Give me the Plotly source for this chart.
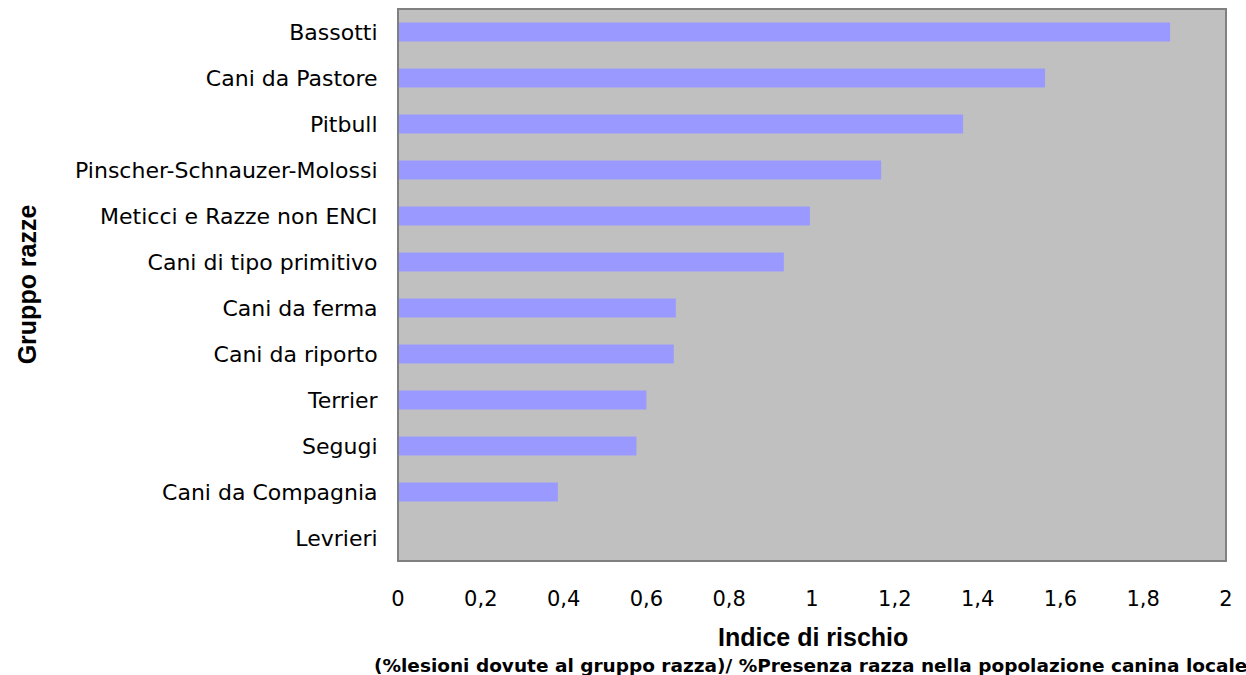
import plotly.graph_objects as go

# Breed groups (top to bottom) and their risk index
groups = [
    "Bassotti",
    "Cani da Pastore",
    "Pitbull",
    "Pinscher-Schnauzer-Molossi",
    "Meticci e Razze non ENCI",
    "Cani di tipo primitivo",
    "Cani da ferma",
    "Cani da riporto",
    "Terrier",
    "Segugi",
    "Cani da Compagnia",
    "Levrieri",
]
risk_index = [1.865, 1.563, 1.365, 1.167, 0.995, 0.932, 0.671, 0.666, 0.600, 0.576, 0.386, 0.0]

tick_vals = [0, 0.2, 0.4, 0.6, 0.8, 1, 1.2, 1.4, 1.6, 1.8, 2]
tick_text = ["0", "0,2", "0,4", "0,6", "0,8", "1", "1,2", "1,4", "1,6", "1,8", "2"]

YTICK_FONT = dict(family="DejaVu Sans, sans-serif", size=22, color="black")
XTICK_FONT = dict(family="DejaVu Sans, sans-serif", size=21, color="black")
TITLE_FONT = dict(family="Liberation Sans, Arial, sans-serif", size=25, color="black")

fig = go.Figure(
    go.Bar(
        x=risk_index,
        y=groups,
        orientation="h",
        marker=dict(color="#9999ff", line=dict(width=0)),
    )
)

fig.update_layout(
    width=1246,
    height=675,
    margin=dict(l=398, r=20, t=9, b=114),
    paper_bgcolor="white",
    plot_bgcolor="#c0c0c0",
    bargap=0.59,
    showlegend=False,
    xaxis=dict(
        range=[0, 2],
        tickvals=tick_vals,
        ticktext=tick_text,
        tickfont=XTICK_FONT,
        showgrid=False,
        zeroline=False,
        ticks="outside",
        ticklen=19,
        tickcolor="rgba(0,0,0,0)",
        showline=False,
        fixedrange=True,
    ),
    yaxis=dict(
        categoryorder="array",
        categoryarray=groups[::-1],
        tickfont=YTICK_FONT,
        showgrid=False,
        zeroline=False,
        ticks="outside",
        ticklen=15,
        tickcolor="rgba(0,0,0,0)",
        showline=False,
        fixedrange=True,
    ),
    shapes=[
        dict(
            type="rect",
            xref="paper",
            yref="paper",
            x0=0,
            x1=1,
            y0=0,
            y1=1,
            line=dict(color="#808080", width=2),
            fillcolor="rgba(0,0,0,0)",
        )
    ],
    annotations=[
        # x-axis title
        dict(
            text="<b>Indice di rischio</b>",
            xref="paper",
            yref="paper",
            x=0.501,
            y=-0.137,
            xanchor="center",
            yanchor="middle",
            showarrow=False,
            font=TITLE_FONT,
        ),
        # x-axis subtitle (formula of the index)
        dict(
            text="<b>(%lesioni dovute al gruppo razza)/ %Presenza razza nella popolazione canina locale</b>",
            xref="paper",
            yref="paper",
            x=-0.031,
            y=-0.19,
            xanchor="left",
            yanchor="middle",
            showarrow=False,
            font=dict(family="DejaVu Sans, sans-serif", size=18.5, color="black"),
        ),
        # y-axis title
        dict(
            text="<b>Gruppo razze</b>",
            xref="paper",
            yref="paper",
            x=-0.447,
            y=0.501,
            xanchor="center",
            yanchor="middle",
            textangle=-90,
            showarrow=False,
            font=TITLE_FONT,
        ),
    ],
)

fig.write_html("out.html")
